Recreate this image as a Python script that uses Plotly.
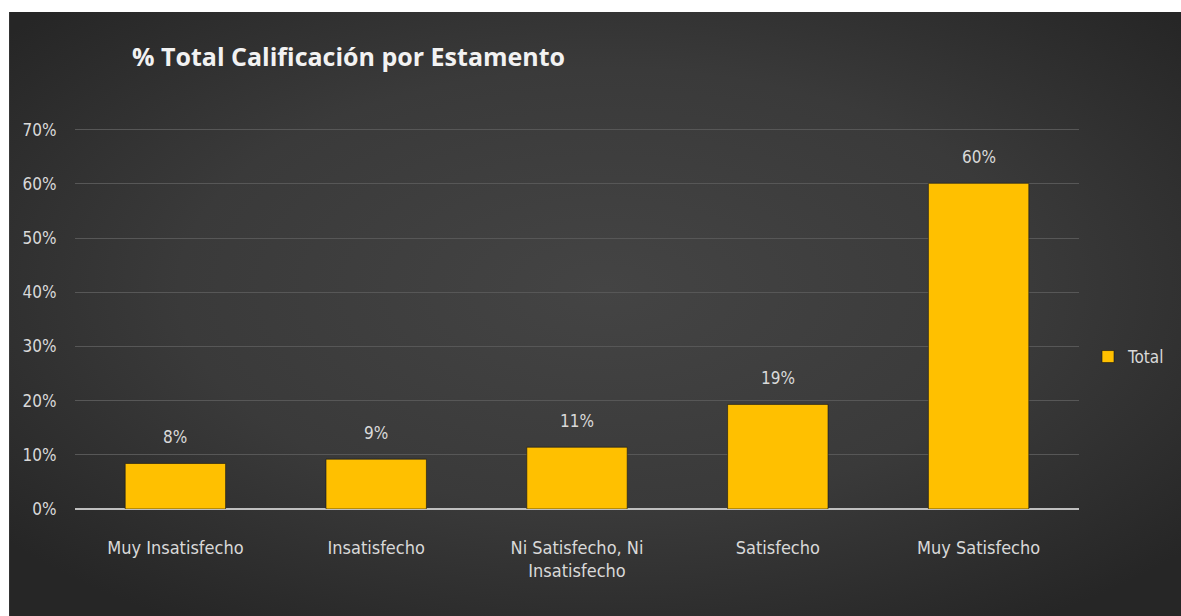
import base64
import plotly.graph_objects as go

categories = ["Muy Insatisfecho", "Insatisfecho", "Ni Satisfecho, Ni<br>Insatisfecho",
              "Satisfecho", "Muy Satisfecho"]
values = [0.084, 0.092, 0.114, 0.193, 0.601]
labels = ["8%", "9%", "11%", "19%", "60%"]
y_ticks = [0, 0.1, 0.2, 0.3, 0.4, 0.5, 0.6, 0.7]
y_tick_text = ["0%", "10%", "20%", "30%", "40%", "50%", "60%", "70%"]

W, H = 1181, 616
L, R, T, B = 75, 101, 127, 107
pw, ph = W - L - R, H - T - B

svg = """<svg xmlns='http://www.w3.org/2000/svg' width='1200' height='604' viewBox='0 0 1200 604' preserveAspectRatio='none'>
<defs><radialGradient id='g' cx='50%' cy='45%' r='65%'>
<stop offset='0%' stop-color='#444444'/>
<stop offset='55%' stop-color='#3a3a3a'/>
<stop offset='100%' stop-color='#262626'/>
</radialGradient></defs>
<rect width='1200' height='604' fill='url(#g)'/></svg>"""
src = "data:image/svg+xml;base64," + base64.b64encode(svg.encode()).decode()

font = "Liberation Sans Narrow, DejaVu Sans Condensed, Arial Narrow, sans-serif"

fig = go.Figure()
fig.add_trace(go.Bar(
    x=categories, y=values, name="Total",
    marker=dict(color="#FFC000", line=dict(color="rgba(20,20,20,0.6)", width=1)),
    width=0.5,
))
for c, v, t in zip(categories, values, labels):
    fig.add_annotation(x=c, y=v, text=t, showarrow=False, yanchor="bottom",
                       yshift=14, font=dict(color="#d9d9d9", size=17, family=font))

def px_x(p):
    return (p - L) / pw

def px_y(p):
    return (H - B - p) / ph

fig.add_layout_image(dict(source=src, xref="paper", yref="paper",
                          x=px_x(9), y=px_y(12), sizex=(W + 20 - 9) / pw, sizey=(H + 10 - 12) / ph,
                          xanchor="left", yanchor="top", sizing="stretch",
                          layer="below"))
# white page margins at top and left
fig.add_shape(type="rect", xref="paper", yref="paper", x0=px_x(-5), x1=px_x(W + 5),
              y0=px_y(12), y1=px_y(-5), fillcolor="white", line_width=0, layer="below")
fig.add_shape(type="rect", xref="paper", yref="paper", x0=px_x(-5), x1=px_x(9),
              y0=px_y(H + 5), y1=px_y(-5), fillcolor="white", line_width=0, layer="below")

fig.update_layout(
    width=W, height=H,
    margin=dict(l=L, r=R, t=T, b=B, pad=0),
    paper_bgcolor="#2a2a2a", plot_bgcolor="rgba(0,0,0,0)",
    title=dict(text="<b>% Total Calificación por Estamento</b>",
               x=132 / W, xanchor="left", xref="container",
               y=1 - 57 / H, yanchor="middle", yref="container",
               font=dict(family="Open Sans, sans-serif", size=25, color="#f2f2f2")),
    showlegend=True,
    legend=dict(x=px_x(1088), y=px_y(357), xanchor="left", yanchor="middle",
                font=dict(family=font, size=17, color="#d9d9d9"),
                bgcolor="rgba(0,0,0,0)", itemwidth=30),
    bargap=0.5,
)
fig.update_yaxes(range=[0, 0.705], tickvals=y_ticks, ticktext=y_tick_text,
                 showgrid=True, gridcolor="#575757", gridwidth=1,
                 zeroline=True, zerolinecolor="#bfbfbf", zerolinewidth=2,
                 ticks="outside", ticklen=14, tickcolor="rgba(0,0,0,0)",
                 tickfont=dict(family=font, size=17, color="#d9d9d9"),
                 showline=False, fixedrange=True)
fig.update_xaxes(showgrid=False, showline=False,
                 ticks="outside", ticklen=22, tickcolor="rgba(0,0,0,0)",
                 tickfont=dict(family=font, size=18, color="#d9d9d9"))

fig.write_html("out.html")
